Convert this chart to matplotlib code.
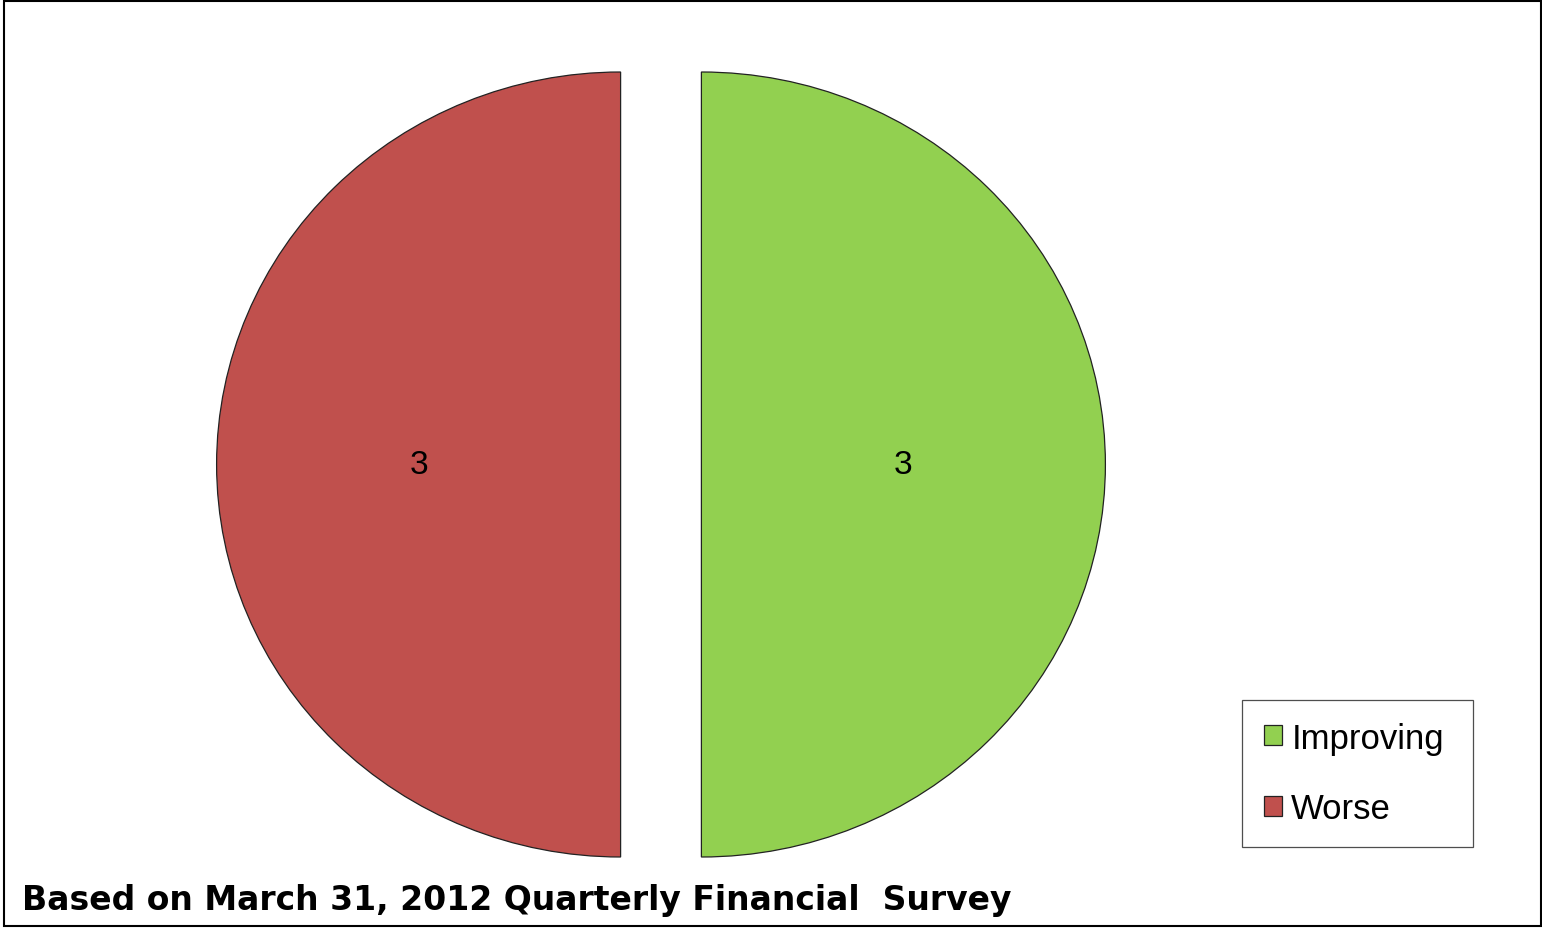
import matplotlib
matplotlib.use("Agg")
import matplotlib.pyplot as plt
from matplotlib.patches import Rectangle

categories = ["Improving", "Worse"]
values = [3, 3]
colors = ["#92D050", "#C0504D"]
footnote = "Based on March 31, 2012 Quarterly Financial  Survey"

W, H = 1542, 929
fig = plt.figure(figsize=(W / 100, H / 100), dpi=100)

# axes placement in pixels: 1 unit x = 404 px, 1 unit y = 392.5 px, center (661, 465.5)
rx, ry = 404, 392.5
cx, cy = 661, 465.5
lim = 1.1
ax = fig.add_axes([(cx - lim * rx) / W, (H - cy - lim * ry) / H, 2 * lim * rx / W, 2 * lim * ry / H])

total = sum(values)
wedges, texts, autotexts = ax.pie(
    values, colors=colors, startangle=90, counterclock=False,
    explode=[0.1, 0.1], radius=1.0,
    autopct=lambda p: f"{p * total / 100:.0f}", pctdistance=0.5,
    wedgeprops=dict(edgecolor="#222222", linewidth=0.9),
    textprops=dict(fontsize=24, family="Liberation Sans", color="black"),
)
ax.set_aspect("auto")
ax.set_xlim(-lim, lim)
ax.set_ylim(-lim, lim)
ax.axis("off")

leg = ax.legend(wedges, categories, loc="upper left",
                bbox_to_anchor=(1242 / W, 1 - 848 / H, 231 / W, 147 / H),
                bbox_transform=fig.transFigure, mode="expand",
                prop=dict(family="Liberation Sans", size=25),
                frameon=True, fancybox=False, edgecolor="#222222",
                handlelength=0.52, handleheight=0.52, handletextpad=0.28,
                labelspacing=1.08, borderpad=0.62, borderaxespad=0)
leg.get_frame().set_linewidth(0.9)

fig.text(22 / W, 1 - 901 / H, footnote, fontsize=23.8, fontweight="bold",
         family="DejaVu Sans", va="center", ha="left")

fig.patches.append(Rectangle((4 / W, 2 / H), 1537 / W, 925 / H, transform=fig.transFigure,
                             fill=False, edgecolor="black", linewidth=1.5))

fig.savefig("out.png", dpi=100)
